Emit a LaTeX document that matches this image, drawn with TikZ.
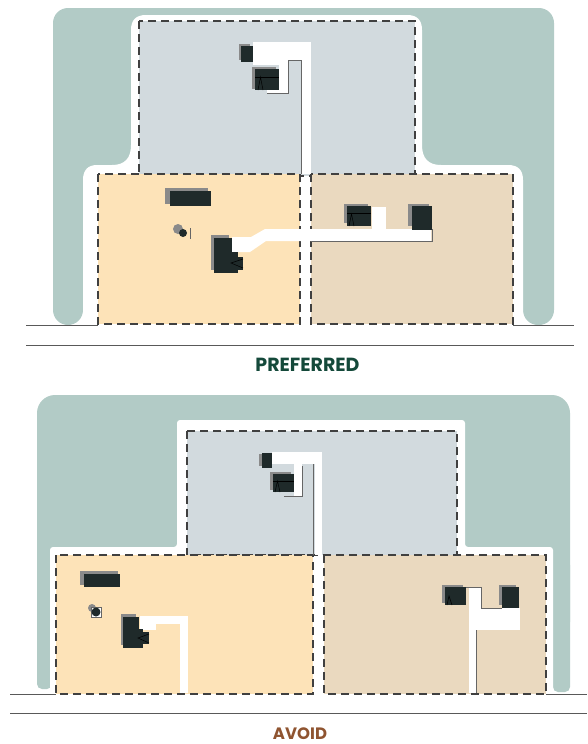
\documentclass[tikz,border=0pt]{standalone}
\usepackage{fontspec}
\usepackage{xcolor}
\setsansfont{Poppins}
\definecolor{lawn}{HTML}{B2CBC6}
\definecolor{lotgray}{HTML}{D2DADE}
\definecolor{lotyellow}{HTML}{FDE3B8}
\definecolor{lottan}{HTML}{EAD9BF}
\definecolor{bldg}{HTML}{1F2A2A}
\definecolor{shade}{HTML}{8A8A8A}
\definecolor{goodgreen}{HTML}{14493A}
\definecolor{badbrown}{HTML}{8F5430}
\tikzset{
  lotline/.style={draw=black!75,dash pattern=on 8pt off 5pt,line width=2pt},
  roadline/.style={draw=black!65,line width=1pt},
  thinline/.style={draw=black!60,line width=0.7pt},
  detail/.style={draw=black,line width=0.5pt},
  house/.style={fill=bldg},
  shadow/.style={fill=shade},
  drive/.style={fill=white},
  caption/.style={inner sep=0pt,font=\sffamily\bfseries\fontsize{19}{20}\selectfont},
  smallcaption/.style={caption,font=\sffamily\bfseries\fontsize{16.5}{18}\selectfont}
}
\begin{document}
\begin{tikzpicture}[x=1pt,y=-1pt]
  \useasboundingbox (0,0) rectangle (587,744);
  % preferred layout
  \fill[lawn,rounded corners=15pt] (83,200) -- (83,325) -- (53,325) -- (53,8) -- (554,8) -- (554,325) -- (523,325) -- (523,200) -- cycle;
  \fill[white] (83,330) -- (83,180) .. controls (83,170) and (88,165) .. (97,165) -- (112,165)
        .. controls (125,165) and (131,158) .. (131,145) -- (131,30) .. controls (131,20) and (136,15) .. (146,15)
        -- (407,15) .. controls (417,15) and (422,20) .. (422,30) -- (422,145)
        .. controls (422,158) and (428,165) .. (441,165) -- (508,165) .. controls (518,165) and (523,170) .. (523,180)
        -- (523,330) -- cycle;
  \fill[white] (40,325) rectangle (575,345);
  \path[fill=lotgray,lotline] (139,21) rectangle (415,176);
  \path[fill=lotyellow,lotline] (98,174) rectangle (300,324);
  \path[fill=lottan,lotline] (311,174) rectangle (513,324);
  \fill[drive] (301,42) rectangle (311,174);
  \fill[drive] (253,42) rectangle (311,60);
  \fill[drive] (253,60) rectangle (283,65);
  \fill[drive] (279,60) rectangle (288,93);
  \fill[drive] (267,90) rectangle (288,93);
  \draw[thinline] (288,60) -- (288,93) -- (267,93);
  \draw[thinline] (288,60) -- (301,60) -- (301,174);
  \fill[shadow] (239,44) rectangle (250,60);
  \fill[house] (241,46) rectangle (253,62);
  \fill[shadow] (252,67) rectangle (276,89);
  \fill[house] (255,69) rectangle (279,90);
  \draw[detail] (255,77) -- (279,77);
  \draw[detail] (258,90) -- (260.5,77) -- (263,90);
  \fill[shadow] (165,188) rectangle (208,204);
  \fill[house] (170,191) rectangle (211,206);
  \fill[shadow] (178,229) circle (5);
  \fill[house] (183,233) circle (4);
  \draw[thinline] (190,228) -- (190,239);
  \fill[drive] (232,237) -- (251,237) -- (265,229) -- (431,229) -- (431,241) -- (266,241) -- (250,252) -- (232,252) -- cycle;
  \draw[thinline] (432,229) -- (432,241) -- (311,241);
  \fill[drive] (372,207) rectangle (386,230);
  \fill[shadow] (211,235) rectangle (229,270);
  \fill[house] (214,238) rectangle (232,273);
  \fill[house] (232,252) rectangle (238,273);
  \fill[house] (238,257) rectangle (243,270);
  \draw[detail] (243,259) -- (231,263) -- (243,268);
  \fill[shadow] (344,204) rectangle (368,223);
  \fill[house] (347,206) rectangle (371,226);
  \draw[detail] (347,213) -- (371,213);
  \draw[detail] (349,226) -- (351.5,214) -- (354,226);
  \fill[shadow] (408,204) rectangle (429,226);
  \fill[house] (412,206) rectangle (432,230);
  \draw[roadline] (26,325) -- (98,325);
  \draw[roadline] (513,325) -- (574,325);
  \draw[roadline] (26,345) -- (574,345);
  \node[caption,text=goodgreen] (preferred) at (307.5,365) {PREFERRED};
  % layout to avoid
  \fill[lawn,rounded corners=18pt] (37,640) -- (37,395) -- (570,395) -- (570,640) -- cycle;
  \fill[lawn,rounded corners=5pt] (37,560) rectangle (52,689);
  \fill[lawn,rounded corners=5pt] (553,560) rectangle (570,692);
  \fill[white,rounded corners=3pt] (50,700) -- (50,547) -- (177,547) -- (177,420) -- (465,420) -- (465,547) -- (553,547) -- (553,700) -- cycle;
  \fill[white] (0,694) rectangle (587,713);
  \path[fill=lotgray,lotline] (187,431) rectangle (457,555);
  \path[fill=lotyellow,lotline] (56,555) rectangle (313,694);
  \path[fill=lottan,lotline] (324,555) rectangle (546,694);
  \fill[drive] (272,452) rectangle (322,464);
  \fill[drive] (315,464) rectangle (322,555);
  \fill[drive] (294,464) rectangle (302,497);
  \draw[thinline] (313,464) -- (313,555);
  \draw[thinline] (302,466) -- (302,496.5) -- (284,496.5);
  \fill[shadow] (259,454) rectangle (270,466);
  \fill[house] (262,453) rectangle (272,468);
  \fill[shadow] (270,472) rectangle (291,490);
  \fill[house] (273,474) rectangle (294,492);
  \draw[detail] (273,481) -- (294,481);
  \draw[detail] (275,492) -- (277.5,481) -- (280,492);
  \fill[shadow] (80,571) rectangle (118,585);
  \fill[house] (84,574) rectangle (120,587);
  \fill[shadow] (92,608) circle (4);
  \path[draw=black!60,fill=white,line width=0.6pt] (91.5,607) rectangle (101.5,617);
  \fill[house] (96,612) circle (4.5);
  \fill[drive] (140,616) rectangle (188,624);
  \fill[drive] (140,624) rectangle (156,630);
  \fill[drive] (180,616) rectangle (188,693);
  \fill[shadow] (121,614) rectangle (136,645);
  \fill[house] (123,617) rectangle (139,648);
  \fill[house] (139,629) rectangle (143,648);
  \fill[house] (143,632) rectangle (149,644);
  \draw[detail] (149,634) -- (138,638) -- (149,643);
  \fill[drive] (469,587) rectangle (481,608);
  \fill[drive] (469,608) rectangle (520,630);
  \fill[drive] (469,630) rectangle (476,693);
  \draw[thinline] (466,587) -- (481.5,587) -- (481.5,608) -- (502,608);
  \draw[thinline] (476,630) -- (476,693);
  \fill[shadow] (442,585) rectangle (463,603);
  \fill[house] (445,587) rectangle (466,605);
  \draw[detail] (447,605) -- (449,596) -- (452,605);
  \fill[shadow] (499,585) rectangle (516,605);
  \fill[house] (502,587) rectangle (519,608);
  \draw[roadline] (10,694) -- (56,694);
  \draw[roadline] (546,694) -- (587,694);
  \draw[roadline] (10,713) -- (587,713);
  \node[smallcaption,text=badbrown] (avoid) at (300,734) {AVOID};
\end{tikzpicture}
\end{document}
